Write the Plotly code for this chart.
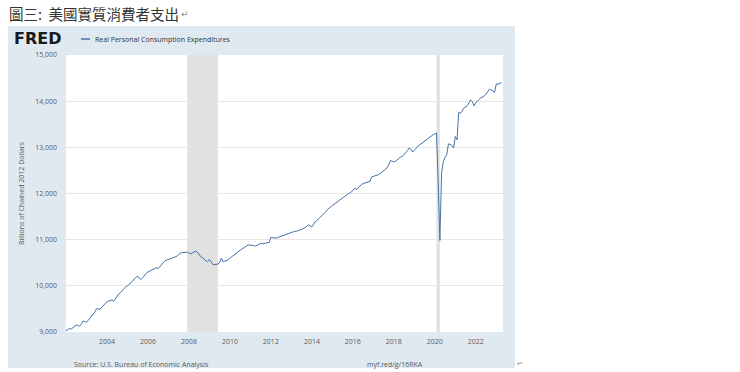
import plotly.graph_objects as go

# ---- data (Billions of Chained 2012 Dollars, monthly) ----
years = list(range(2002, 2024))
values_by_year = {
    2002: [9024, 9050, 9082, 9060, 9095, 9135, 9153, 9140, 9125, 9170, 9240, 9225],
    2003: [9218, 9250, 9290, 9330, 9380, 9440, 9507, 9500, 9492, 9540, 9580, 9620],
    2004: [9650, 9672, 9685, 9694, 9665, 9720, 9790, 9830, 9853, 9900, 9950, 9983],
    2005: [10000, 10030, 10054, 10100, 10150, 10190, 10212, 10160, 10140, 10180, 10230, 10270],
    2006: [10300, 10320, 10340, 10355, 10370, 10393, 10372, 10420, 10470, 10510, 10545, 10557],
    2007: [10570, 10585, 10600, 10610, 10630, 10640, 10680, 10710, 10717, 10725, 10738, 10730],
    2008: [10710, 10695, 10715, 10740, 10752, 10730, 10670, 10630, 10609, 10570, 10540, 10522],
    2009: [10572, 10520, 10464, 10460, 10465, 10471, 10500, 10600, 10522, 10530, 10543, 10560],
    2010: [10600, 10630, 10670, 10700, 10720, 10740, 10770, 10795, 10825, 10855, 10870, 10885],
    2011: [10880, 10890, 10875, 10860, 10880, 10900, 10918, 10910, 10920, 10925, 10933, 10940],
    2012: [11048, 11040, 11035, 11033, 11045, 11060, 11075, 11091, 11110, 11125, 11140, 11149],
    2013: [11160, 11170, 11177, 11180, 11195, 11210, 11220, 11240, 11260, 11285, 11322, 11300],
    2014: [11279, 11340, 11390, 11415, 11450, 11490, 11520, 11544, 11600, 11650, 11689, 11710],
    2015: [11740, 11770, 11797, 11820, 11850, 11880, 11910, 11940, 11960, 11985, 12005, 12026],
    2016: [12060, 12121, 12084, 12120, 12160, 12190, 12214, 12225, 12240, 12255, 12264, 12359],
    2017: [12370, 12385, 12395, 12408, 12430, 12460, 12500, 12530, 12553, 12620, 12711, 12700],
    2018: [12683, 12700, 12730, 12760, 12790, 12804, 12840, 12880, 12930, 12985, 12960, 12898],
    2019: [12930, 12975, 13020, 13050, 13080, 13110, 13140, 13164, 13186, 13210, 13240, 13272],
    2020: [13290, 13309, 12250, 10983, 12445, 12696, 12780, 12840, 13078, 13056, 13040, 12985],
    2021: [13236, 13164, 13754, 13740, 13780, 13848, 13880, 13900, 13960, 14028, 13990, 13898],
    2022: [13960, 14013, 14040, 14070, 14090, 14114, 14150, 14200, 14259, 14240, 14230, 14186],
    2023: [14374, 14367, 14380, 14402],
}
recessions = [("2007-12-01", "2009-06-01"), ("2020-02-01", "2020-04-01")]
y_ticks = [9000, 10000, 11000, 12000, 13000, 14000, 15000]
x_tick_years = [2004, 2006, 2008, 2010, 2012, 2014, 2016, 2018, 2020, 2022]
series_name = "Real Personal Consumption Expenditures"
y_title = "Billions of Chained 2012 Dollars"
chart_title = "圖三:  美國實質消費者支出"
source_text = "Source: U.S. Bureau of Economic Analysis"
link_text = "myf.red/g/16RKA"

dates, vals = [], []
for y in years:
    for m, v in enumerate(values_by_year[y]):
        dates.append(f"{y}-{m + 1:02d}-01")
        vals.append(v)

W, H = 740, 372
L, R, T, B = 66, 503, 55, 332
PW, PH = R - L, B - T


def px(x):
    return (x - L) / PW


def py(y):
    return (B - y) / PH


fig = go.Figure()
fig.add_trace(go.Scatter(x=dates, y=vals, mode="lines", name=series_name,
                         line=dict(color="#4572a7", width=1),
                         showlegend=False))

shapes = [
    dict(type="rect", xref="paper", yref="paper", x0=px(8), x1=px(515),
         y0=py(368), y1=py(26), fillcolor="#e1e9f0", line_width=0, layer="below"),
    dict(type="rect", xref="paper", yref="paper", x0=0, x1=1, y0=0, y1=1,
         fillcolor="#ffffff", line_width=0, layer="below"),
    dict(type="line", xref="paper", yref="paper", x0=px(81), x1=px(90),
         y0=py(39), y1=py(39), line=dict(color="#4572a7", width=1.5)),
]
for a, b in recessions:
    shapes.append(dict(type="rect", xref="x", yref="paper", x0=a, x1=b, y0=0, y1=1,
                       fillcolor="#e1e1e1", line_width=0, layer="below"))


def note(x, y, text, size=7, color="#595959", family="Open Sans", **kw):
    d = dict(xref="paper", yref="paper", x=px(x), y=py(y), text=text,
             showarrow=False, xanchor="left", yanchor="middle",
             font=dict(family=family, size=size, color=color))
    d.update(kw)
    return d


ann = [
    note(7, 13, chart_title, size=14.5, color="#333333", family="Noto Sans CJK TC"),
    note(179, 14, "↵", size=9, color="#888888", family="DejaVu Sans"),
    note(12, 38, "<b>FRED</b>", size=16, color="#1a1a1a", family="DejaVu Sans"),
    note(93, 39, series_name, size=7, color="#333333"),
    note(21, 193, y_title, textangle=-90, xanchor="center"),
    note(72, 364, source_text),
    note(365, 364, link_text),
    note(515, 364, "↵", color="#888888", family="DejaVu Sans"),
]

fig.update_layout(
    width=W, height=H,
    margin=dict(l=L, r=W - R, t=T, b=H - B, pad=0),
    paper_bgcolor="#ffffff",
    plot_bgcolor="rgba(0,0,0,0)",
    shapes=shapes,
    annotations=ann,
    showlegend=False,
    xaxis=dict(type="date", range=["2002-01-01", "2023-05-01"],
               tickvals=[f"{y}-01-01" for y in x_tick_years],
               ticktext=[str(y) for y in x_tick_years],
               showgrid=False, zeroline=False, showline=False, ticks="",
               ticklabelstandoff=4,
               tickfont=dict(family="Open Sans", size=7, color="#595959")),
    yaxis=dict(range=[9000, 15000], tickvals=y_ticks,
               ticktext=[f"{v:,}" for v in y_ticks],
               showgrid=True, gridcolor="#e6e6e6", gridwidth=1,
               zeroline=False, showline=False, ticks="",
               ticklabelstandoff=8,
               tickfont=dict(family="Open Sans", size=7, color="#595959")),
)

fig.write_html("out.html", config={"displayModeBar": False},
               post_script="document.body.style.margin='0';")
